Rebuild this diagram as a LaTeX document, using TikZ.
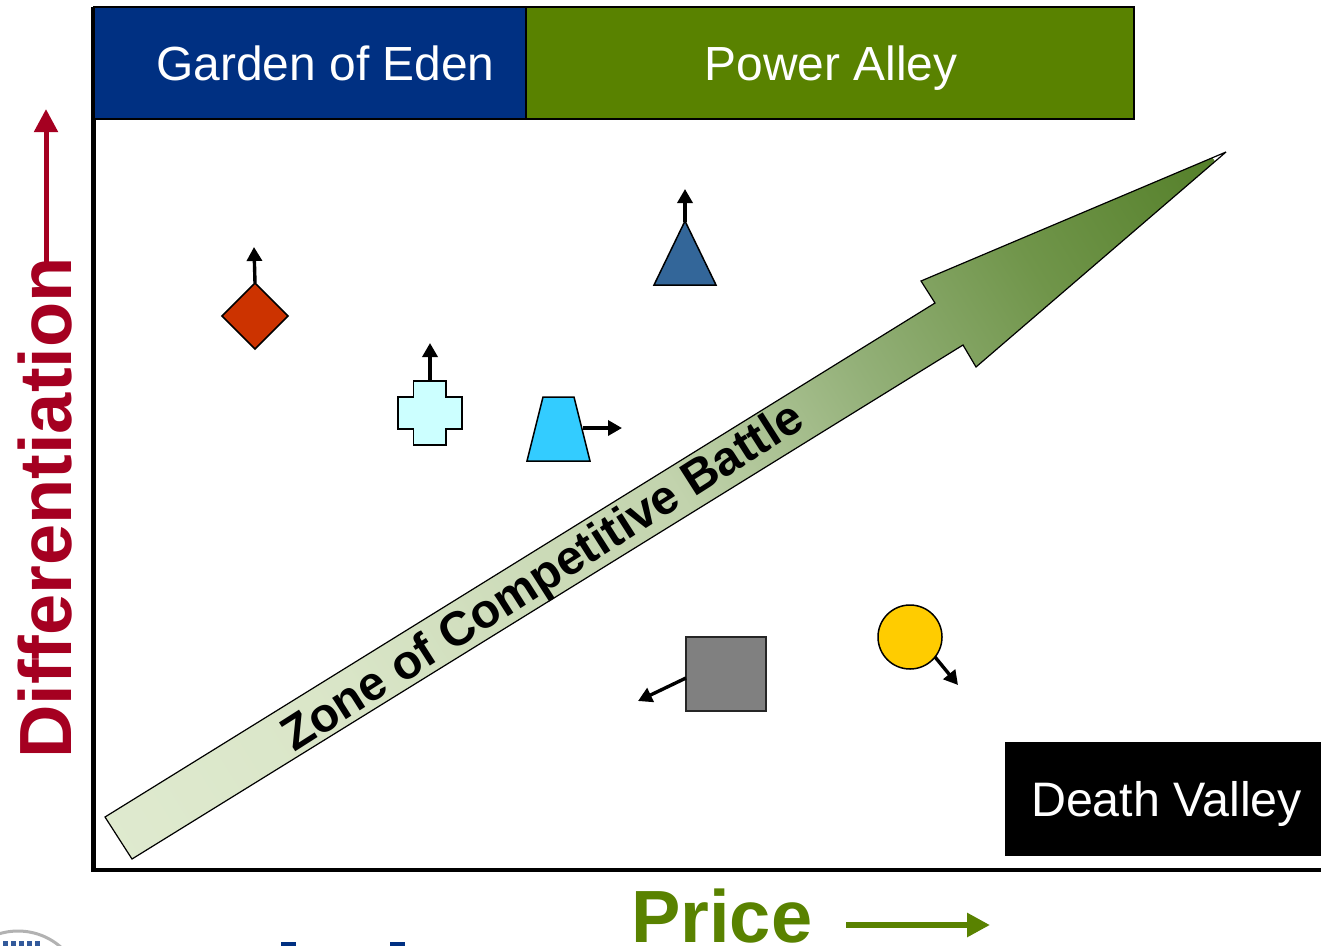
\documentclass[tikz,border=0pt]{standalone}
\usepackage{fontspec}
\setmainfont{Liberation Sans}
\usetikzlibrary{arrows.meta,shapes.geometric}
\definecolor{navyb}{HTML}{003082}
\definecolor{greenb}{HTML}{598200}
\definecolor{redlab}{HTML}{A50021}
\definecolor{diaC}{HTML}{CC3300}
\definecolor{crossC}{HTML}{CCFFFF}
\definecolor{trapC}{HTML}{33CCFF}
\definecolor{triC}{HTML}{336699}
\definecolor{sqC}{HTML}{808080}
\definecolor{circC}{HTML}{FFCC00}
\definecolor{zoneA}{HTML}{DFEACF}
\definecolor{zoneB}{HTML}{D9E5C7}
\definecolor{zoneC}{HTML}{C2D3AD}
\definecolor{zoneD}{HTML}{93B078}
\definecolor{zoneE}{HTML}{70954A}
\definecolor{zoneF}{HTML}{55802A}
\pgfdeclarehorizontalshading{zoneshade}{500pt}{color(0pt)=(zoneA); color(300pt)=(zoneB); color(680pt)=(zoneC); color(900pt)=(zoneD); color(1100pt)=(zoneE); color(1310pt)=(zoneF)}
\tikzset{
 x=1pt,y=-1pt,
 bandbox/.style={draw=black,line width=1.2pt,inner sep=0pt,outer sep=0pt,anchor=north west},
 bandtext/.style={text=white,font=\fontsize{47.9}{50}\selectfont,anchor=base,inner sep=0pt},
 marker/.style={draw=black,line width=1.5pt,inner sep=0pt,outer sep=0pt},
 mover/.style={draw=black,line width=3.4pt,-{Triangle[length=14pt,width=15pt]}},
 axisline/.style={draw=black,line width=4.5pt,line cap=rect},
}
\begin{document}
\begin{tikzpicture}
\useasboundingbox (0,0) rectangle (1321,945);
\fill[white] (0,0) rectangle (1321,945);
% axes
\coordinate (origin) at (93.5,870);
\coordinate (ytop) at (93.5,9);
\coordinate (xend) at (1321,870);
\draw[axisline] (ytop) -- (origin) -- (xend);
% bands
\node[bandbox,fill=navyb,minimum width=464pt,minimum height=112pt] (eden) at (94,7) {};
\node[bandbox,fill=greenb,minimum width=608pt,minimum height=112pt] (alley) at (526,7) {};
\node[bandbox,fill=black,minimum width=316pt,minimum height=113pt] (death) at (1005.5,742.5) {};
\node[bandtext] (edenlabel) at (325.5,80) {Garden of Eden};
\node[bandtext] (alleylabel) at (831,80) {Power Alley};
\node[bandtext,font=\fontsize{48.4}{50}\selectfont] (deathlabel) at (1166.5,816) {Death Valley};
% zone arrow
\begin{scope}
\clip (105,817) -- (132,859) -- (963,345) -- (976,367) -- (1226,152) -- (921,281) -- (935,303) -- cycle;
\node[rotate=31.8,inner sep=0pt,outer sep=0pt,anchor=west] at (100,849) {\pgfuseshading{zoneshade}};
\end{scope}
\draw[black,line width=1.2pt,line join=miter,miter limit=2] (105,817) -- (132,859) -- (963,345) -- (976,367) -- (1226,152) -- (921,281) -- (935,303) -- cycle;
\node[rotate=32.5,font=\bfseries\fontsize{48}{50}\selectfont,inner sep=0pt] (zone) at (544,579) {Zone of Competitive Battle};
% markers
\coordinate (diatip) at (254,247);
\node[marker,shape=diamond,aspect=1,minimum width=66pt,minimum height=66pt,fill=diaC] (dia) at (255,316) {};
\draw[mover] (dia.north) -- (diatip);
\draw[marker,fill=crossC,line join=miter] (413.5,381) -- (446,381) -- (446,397) -- (462,397) -- (462,429) -- (446,429) -- (446,445) -- (413.5,445) -- (413.5,429) -- (398,429) -- (398,397) -- (413.5,397) -- cycle;
\coordinate (crosstop) at (430,381);
\coordinate (crosstip) at (430,343);
\draw[mover] (crosstop) -- (crosstip);
\coordinate (trapside) at (583,428);
\coordinate (traptip) at (622,428);
\draw[mover] (trapside) -- (traptip);
\draw[marker,fill=trapC,line join=miter] (543,397) -- (574,397) -- (590,461) -- (527,461) -- cycle;
\coordinate (triapex) at (685,222);
\coordinate (tritip) at (685,189);
\draw[mover] (triapex) -- (tritip);
\draw[marker,fill=triC,line join=miter] (685,221) -- (716,285) -- (654,285) -- cycle;
\node[marker,draw=black!85,anchor=north west,fill=sqC,minimum width=80pt,minimum height=74pt] (sq) at (686,637) {};
\coordinate (sqside) at (686,678);
\coordinate (sqtip) at (638,701);
\draw[mover] (sqside) -- (sqtip);
\coordinate (circside) at (935,657);
\coordinate (circtip) at (958,685);
\draw[mover] (circside) -- (circtip);
\node[marker,shape=circle,minimum size=64pt,fill=circC] (circ) at (910,637) {};
% axis labels
\node[rotate=90,anchor=base west,inner sep=0pt,text=redlab,font=\bfseries\fontsize{74}{76}\selectfont] (ylabel) at (71,759) {Differentiation};
\coordinate (ytip) at (46,109);
\draw[draw=redlab,line width=5pt,-{Triangle[length=23pt,width=23pt]}] (46,262) -- (ytip);
\node[anchor=base west,inner sep=0pt,text=greenb,font=\bfseries\fontsize{74}{76}\selectfont] (xlabel) at (631,942) {Price};
\coordinate (xtip) at (990,925);
\draw[draw=greenb,line width=6pt,-{Triangle[length=23pt,width=23pt]}] (846,925) -- (xtip);
% cropped logo fragments at the bottom edge
\begin{scope}
\clip (0,0) rectangle (1321,945);
\draw[gray!60,line width=3pt] (18,996) circle (65);
\fill[navyb] (281,942) rectangle (296,946);
\fill[navyb] (390,942) rectangle (405,946);
\foreach \nx in {3,11,19,27,35} {\fill[navyb!80] (\nx,941) rectangle ++(5,5);}
\end{scope}
\end{tikzpicture}
\end{document}
